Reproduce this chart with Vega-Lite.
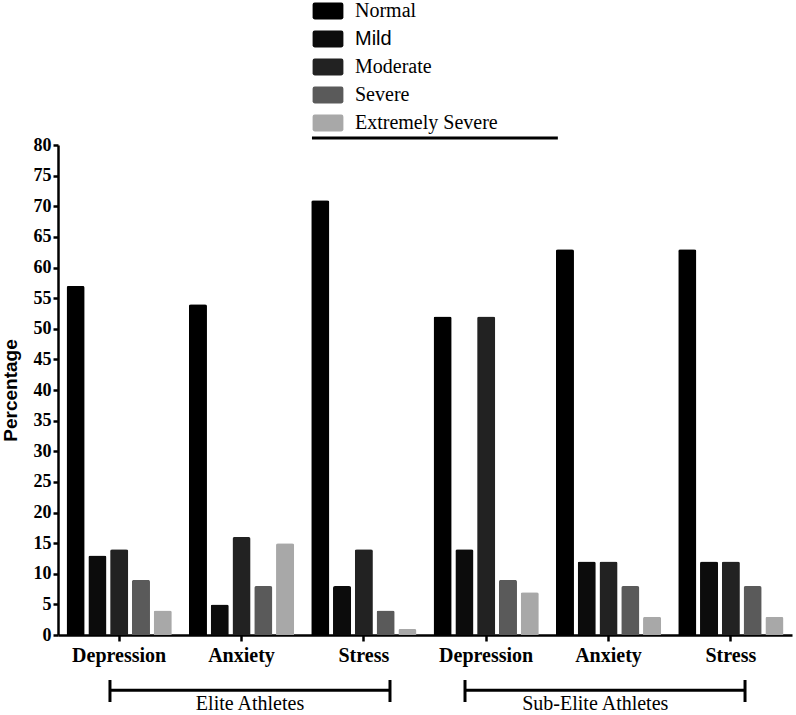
{
  "$schema": "https://vega.github.io/schema/vega-lite/v6.json",
  "autosize": "none",
  "padding": {"left": 58, "top": 145, "right": 4, "bottom": 80},
  "width": 734,
  "height": 490,
  "config": {
    "view": {"stroke": null},
    "axis": {"grid": false, "domainColor": "black", "tickColor": "black", "labelColor": "black", "titleColor": "black"}
  },
  "resolve": {"scale": {"x": "independent"}, "axis": {"y": "independent"}},
  "layer": [
    {
      "data": {"values": [
        {"grp": "E Depression", "level": "Normal", "value": 57},
        {"grp": "E Depression", "level": "Mild", "value": 13},
        {"grp": "E Depression", "level": "Moderate", "value": 14},
        {"grp": "E Depression", "level": "Severe", "value": 9},
        {"grp": "E Depression", "level": "Extremely Severe", "value": 4},
        {"grp": "E Anxiety", "level": "Normal", "value": 54},
        {"grp": "E Anxiety", "level": "Mild", "value": 5},
        {"grp": "E Anxiety", "level": "Moderate", "value": 16},
        {"grp": "E Anxiety", "level": "Severe", "value": 8},
        {"grp": "E Anxiety", "level": "Extremely Severe", "value": 15},
        {"grp": "E Stress", "level": "Normal", "value": 71},
        {"grp": "E Stress", "level": "Mild", "value": 8},
        {"grp": "E Stress", "level": "Moderate", "value": 14},
        {"grp": "E Stress", "level": "Severe", "value": 4},
        {"grp": "E Stress", "level": "Extremely Severe", "value": 1},
        {"grp": "S Depression", "level": "Normal", "value": 52},
        {"grp": "S Depression", "level": "Mild", "value": 14},
        {"grp": "S Depression", "level": "Moderate", "value": 52},
        {"grp": "S Depression", "level": "Severe", "value": 9},
        {"grp": "S Depression", "level": "Extremely Severe", "value": 7},
        {"grp": "S Anxiety", "level": "Normal", "value": 63},
        {"grp": "S Anxiety", "level": "Mild", "value": 12},
        {"grp": "S Anxiety", "level": "Moderate", "value": 12},
        {"grp": "S Anxiety", "level": "Severe", "value": 8},
        {"grp": "S Anxiety", "level": "Extremely Severe", "value": 3},
        {"grp": "S Stress", "level": "Normal", "value": 63},
        {"grp": "S Stress", "level": "Mild", "value": 12},
        {"grp": "S Stress", "level": "Moderate", "value": 12},
        {"grp": "S Stress", "level": "Severe", "value": 8},
        {"grp": "S Stress", "level": "Extremely Severe", "value": 3}
      ]},
      "mark": {"type": "bar", "cornerRadiusTopLeft": 2, "cornerRadiusTopRight": 2},
      "encoding": {
        "x": {
          "field": "grp", "type": "nominal", "sort": null,
          "scale": {"paddingInner": 0.14, "paddingOuter": 0.07},
          "axis": {
            "title": null, "labelAngle": 0, "labelExpr": "slice(datum.label, 2)",
            "labelFont": "Liberation Serif", "labelFontWeight": "bold", "labelFontSize": 20,
            "labelPadding": 4, "tickSize": 6, "tickWidth": 2.5, "domainWidth": 2.5
          }
        },
        "xOffset": {
          "field": "level", "type": "nominal",
          "sort": ["Normal", "Mild", "Moderate", "Severe", "Extremely Severe"],
          "scale": {"paddingInner": 0.17, "paddingOuter": 0}
        },
        "y": {
          "field": "value", "type": "quantitative",
          "scale": {"domain": [0, 80], "nice": false},
          "axis": {
            "title": "Percentage", "titleFont": "Liberation Sans", "titleFontWeight": "bold", "titleFontSize": 19,
            "titlePadding": 13,
            "values": [0, 5, 10, 15, 20, 25, 30, 35, 40, 45, 50, 55, 60, 65, 70, 75, 80],
            "labelOverlap": false,
            "labelFont": "Liberation Serif", "labelFontWeight": "bold", "labelFontSize": 18,
            "labelPadding": 2, "tickSize": 5, "tickWidth": 2.5, "domainWidth": 2.5
          }
        },
        "color": {
          "field": "level", "type": "nominal",
          "sort": ["Normal", "Mild", "Moderate", "Severe", "Extremely Severe"],
          "scale": {
            "domain": ["Normal", "Mild", "Moderate", "Severe", "Extremely Severe"],
            "range": ["#000000", "#0c0c0c", "#222222", "#5a5a5a", "#a8a8a8"]
          },
          "legend": {
            "title": null, "orient": "none", "legendX": 256, "legendY": -148,
            "labelFont": "Liberation Serif", "labelFontSize": 20, "labelColor": "black",
            "symbolType": "M-0.95,-0.6 L0.95,-0.6 Q1.1,-0.6 1.1,-0.45 L1.1,0.45 Q1.1,0.6 0.95,0.6 L-0.95,0.6 Q-1.1,0.6 -1.1,0.45 L-1.1,-0.45 Q-1.1,-0.6 -0.95,-0.6 Z",
            "symbolSize": 784, "symbolStrokeWidth": 0, "symbolOpacity": 1,
            "rowPadding": 4, "labelOffset": 13,
            "encode": {"labels": {"update": {"font": {"signal": "datum.label === 'Mild' ? 'Liberation Sans' : 'Liberation Serif'"}}}}
          }
        }
      }
    },
    {
      "data": {"values": [
        {"a": 0.346, "b": 0.681, "ya": 81.14, "yb": 81.14},
        {"a": 0.0708, "b": 0.4523, "ya": -9.0, "yb": -9.0},
        {"a": 0.0708, "b": 0.0708, "ya": -7.35, "yb": -10.94},
        {"a": 0.4523, "b": 0.4523, "ya": -7.35, "yb": -10.94},
        {"a": 0.5545, "b": 0.936, "ya": -9.0, "yb": -9.0},
        {"a": 0.5545, "b": 0.5545, "ya": -7.35, "yb": -10.94},
        {"a": 0.936, "b": 0.936, "ya": -7.35, "yb": -10.94}
      ]},
      "mark": {"type": "rule", "color": "black", "strokeWidth": 3, "clip": false},
      "encoding": {
        "x": {"field": "a", "type": "quantitative", "scale": {"domain": [0, 1], "nice": false, "zero": false}, "axis": null},
        "x2": {"field": "b"},
        "y": {"field": "ya", "type": "quantitative", "scale": {"domain": [0, 80], "nice": false}, "axis": null},
        "y2": {"field": "yb"}
      }
    },
    {
      "data": {"values": [
        {"label": "Elite Athletes", "px": 0.2616, "py": -11.3},
        {"label": "Sub-Elite Athletes", "px": 0.732, "py": -11.3}
      ]},
      "mark": {"type": "text", "font": "Liberation Serif", "fontSize": 20, "color": "black", "align": "center", "baseline": "middle", "clip": false},
      "encoding": {
        "x": {"field": "px", "type": "quantitative", "scale": {"domain": [0, 1], "nice": false, "zero": false}, "axis": null},
        "y": {"field": "py", "type": "quantitative", "scale": {"domain": [0, 80], "nice": false}, "axis": null},
        "text": {"field": "label"}
      }
    }
  ]
}
